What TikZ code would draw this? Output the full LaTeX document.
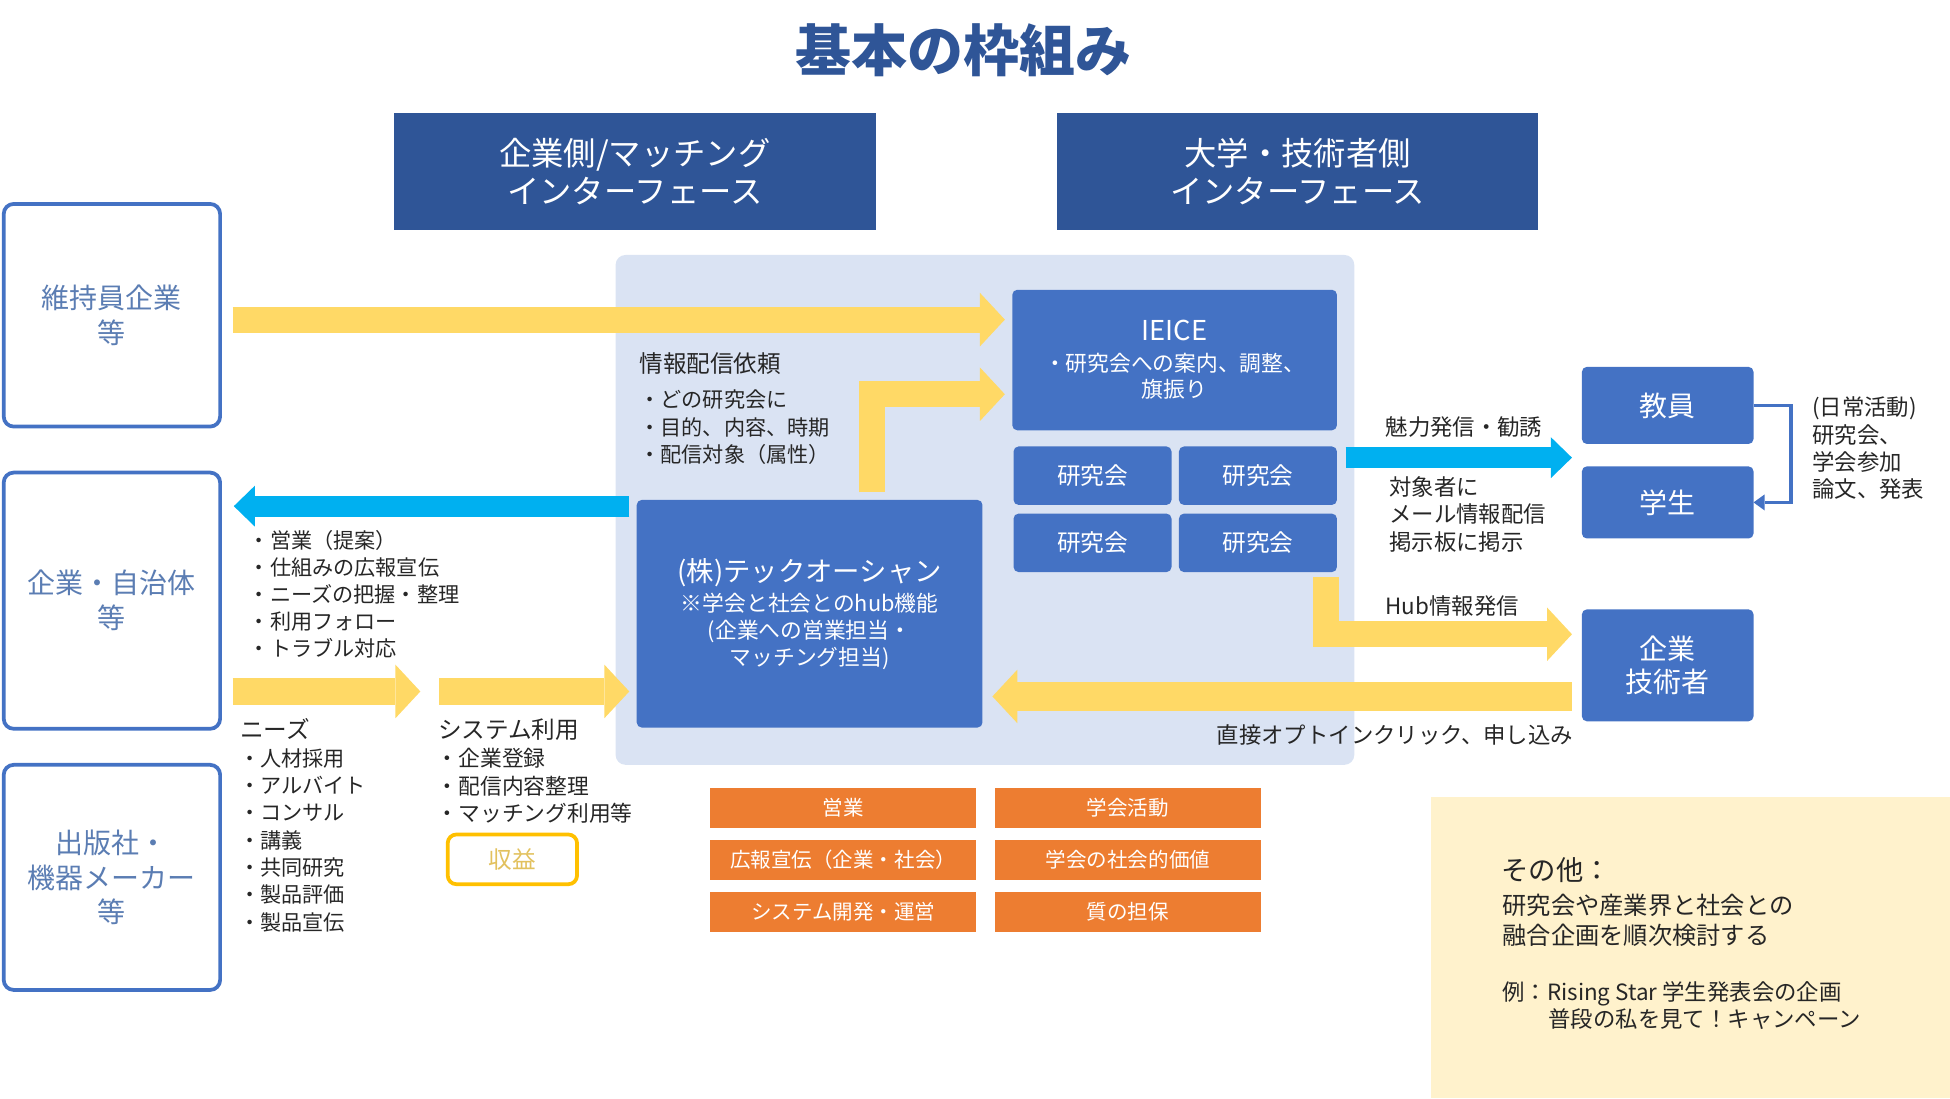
\documentclass[tikz,border=0pt]{standalone}
\usepackage{fontspec}
\setmainfont{Noto Sans CJK JP}
\usetikzlibrary{positioning, calc, arrows.meta}

\definecolor{navy}{HTML}{2F5597}
\definecolor{midblue}{HTML}{4472C4}
\definecolor{steelblue}{HTML}{5B7DB3}
\definecolor{paleblue}{HTML}{DAE3F3}
\definecolor{sunyellow}{HTML}{FFD966}
\definecolor{skyblue}{HTML}{00B0F0}
\definecolor{taskorange}{HTML}{ED7D31}
\definecolor{gold}{HTML}{FFC000}
\definecolor{paleochre}{HTML}{E2C15E}
\definecolor{cream}{HTML}{FFF2CC}
\definecolor{inkgray}{HTML}{262626}

\def \sidewidth {174pt}
\def \hdrwidth {387pt}
\def \taskwidth {214pt}

\tikzset{
  hdrbox/.style = {fill = navy, text = white, align = center, inner sep = 0pt, outer sep = 0pt, minimum width = \hdrwidth, minimum height = 94pt, font = \fontsize{26}{31}\selectfont},
  sidebox/.style = {draw = midblue, line width = 3pt, rounded corners = 8pt, fill = white, text = steelblue, align = center, outer sep = 0pt, minimum width = \sidewidth, font = \fontsize{22.5}{28}\selectfont},
  bluebox/.style = {fill = midblue, text = white, rounded corners = 4pt, align = center, inner sep = 0pt, outer sep = 0pt},
  kenbox/.style = {bluebox, minimum width = 127pt, minimum height = 47pt, font = \fontsize{19}{23}\selectfont},
  taskbox/.style = {fill = taskorange, text = white, inner sep = 0pt, outer sep = 0pt, minimum width = \taskwidth, minimum height = 32pt, font = \fontsize{16.5}{20}\selectfont},
  note/.style = {text = inkgray, align = left, inner sep = 0pt, font = \fontsize{17}{22}\selectfont},
  yarrow/.style = {draw = sunyellow, line width = 21pt, -{Triangle[length = 20pt, width = 43pt, line width = 0pt]}},
  carrow/.style = {draw = skyblue, line width = 17pt, -{Triangle[length = 17pt, width = 33pt, line width = 0pt]}},
}

\begin{document}
\begin{tikzpicture}[x = 1pt, y = -1pt]
\useasboundingbox (0, 0) rectangle (1568, 883);

\node (title) [font = \bfseries\fontsize{45}{50}\selectfont, text = navy] at (775, 40) {基本の枠組み};

\node (hdr_corp) [hdrbox] at (510.5, 138) {企業側/マッチング\\インターフェース};
\node (hdr_univ) [hdrbox] at (1043.5, 138) {大学・技術者側\\インターフェース};

% background panels
\node (hub_panel) [fill = paleblue, rounded corners = 8pt, inner sep = 0pt, outer sep = 0pt, minimum width = 594pt, minimum height = 410pt] at (792, 410) {};
\node (other_panel) [fill = cream, inner sep = 0pt, outer sep = 0pt, minimum width = 417pt, minimum height = 242pt] at (1359.5, 762) {};

\node (ijiin) [sidebox, minimum height = 179pt] at (90, 253.5) {維持員企業\\等};
\node (kigyo) [sidebox, minimum height = 206pt] at (90, 483) {企業・自治体\\等};
\node (shuppan) [sidebox, minimum height = 181pt] at (90, 705.5) {出版社・\\機器メーカー\\等};

\node (ieice) [bluebox, minimum width = 261pt, minimum height = 113pt, font = \fontsize{17.5}{21}\selectfont] at (944.5, 289.5) {{\fontsize{22}{26}\selectfont IEICE}\\[4pt]・研究会への案内、調整、\\旗振り};

\node (ken_a) [kenbox, below right = 13pt and 1pt of ieice.south west] {研究会};
\node (ken_b) [kenbox, right = 6pt of ken_a] {研究会};
\node (ken_c) [kenbox, below = 7pt of ken_a] {研究会};
\node (ken_d) [kenbox, right = 6pt of ken_c] {研究会};

\node (tech) [bluebox, minimum width = 278pt, minimum height = 183pt, font = \fontsize{17.5}{21.5}\selectfont] at (651, 493.5) {{\fontsize{22}{26}\selectfont (株)テックオーシャン}\\[3pt]※学会と社会とのhub機能\\(企業への営業担当・\\マッチング担当)};

\node (kyoin) [bluebox, minimum width = 138pt, minimum height = 62pt, font = \fontsize{22.5}{27}\selectfont] at (1341, 326) {教員};
\node (gakusei) [bluebox, minimum width = 138pt, minimum height = 58pt, font = \fontsize{22.5}{27}\selectfont] at (1341, 404) {学生};
\node (gijutsu) [bluebox, minimum width = 138pt, minimum height = 90pt, font = \fontsize{22.5}{27}\selectfont] at (1341, 535) {企業\\技術者};

\node (task_sales) [taskbox] at (678, 649.5) {営業};
\node (task_pr) [taskbox, below = 10pt of task_sales] {広報宣伝（企業・社会）};
\node (task_sys) [taskbox, below = 10pt of task_pr] {システム開発・運営};
\node (task_soc) [taskbox, right = 15pt of task_sales] {学会活動};
\node (task_val) [taskbox, right = 15pt of task_pr] {学会の社会的価値};
\node (task_qa) [taskbox, right = 15pt of task_sys] {質の担保};

\node (shueki) [draw = gold, line width = 3pt, rounded corners = 7pt, text = paleochre, minimum width = 104pt, minimum height = 40pt, font = \fontsize{19}{23}\selectfont] at (412, 691) {収益};

% arrows
\draw[yarrow] ([xshift = 10pt, yshift = -3.5pt] ijiin.east) -- ([xshift = -6pt, yshift = -3.5pt] ijiin.east -| ieice.west);
\draw[yarrow] ([xshift = 50pt, yshift = 6pt] tech.north) |- ([xshift = -6pt, yshift = -27.5pt] ieice.west);
\draw[carrow] ([xshift = -6pt, yshift = -5pt] tech.north west) -- ([xshift = 11pt, yshift = -5pt] tech.north west -| kigyo.east);

\coordinate (needs_tip) at (338, 556);
\coordinate (sys_tail) at (353, 556);
\draw[yarrow] ([xshift = 10pt] kigyo.east |- needs_tip) -- (needs_tip);
\draw[yarrow] (sys_tail) -- ([xshift = -6pt] tech.west |- sys_tail);

\draw[carrow] ([xshift = 7pt, yshift = 14.5pt] ken_b.east) -- ([xshift = -8pt, yshift = -11pt] kyoin.south west);
\draw[yarrow] ([xshift = -9pt, yshift = -4pt] ken_d.south east) |- ([xshift = -8pt, yshift = 25pt] gijutsu.west);
\draw[yarrow, line width = 23pt] ([xshift = -8pt, yshift = -25pt] gijutsu.west) -- ($(tech.east |- gijutsu.west) + (8, 25)$);

\draw[draw = midblue, line width = 3pt, -{Triangle[length = 9pt, width = 13pt, line width = 0pt]}] (kyoin.east) -- ++(30, 0) |- (gakusei.east);

% labels
\node (req_head) [note, anchor = west, font = \fontsize{19}{23}\selectfont] at (514, 292) {情報配信依頼};
\node (req_list) [note, anchor = north west] at (514, 313.5) {・どの研究会に\\・目的、内容、時期\\・配信対象（属性）};

\node (sales_list) [note, anchor = north west, font = \fontsize{17}{21.75}\selectfont] at (200, 426.5) {・営業（提案）\\・仕組みの広報宣伝\\・ニーズの把握・整理\\・利用フォロー\\・トラブル対応};

\node (needs_head) [note, anchor = west, font = \fontsize{19}{23}\selectfont] at (193, 586) {ニーズ};
\node (needs_list) [note, anchor = north west] at (192, 601.5) {・人材採用\\・アルバイト\\・コンサル\\・講義\\・共同研究\\・製品評価\\・製品宣伝};

\node (sys_head) [note, anchor = west, font = \fontsize{19}{23}\selectfont] at (352, 587) {システム利用};
\node (sys_list) [note, anchor = north west, font = \fontsize{17.5}{22.5}\selectfont] at (351, 601) {・企業登録\\・配信内容整理\\・マッチング利用等};

\node (appeal_lbl) [note, anchor = west, font = \fontsize{18}{22}\selectfont] at (1114, 343) {魅力発信・勧誘};
\node (mail_lbl) [note, anchor = north west, font = \fontsize{18}{22}\selectfont] at (1117, 383) {対象者に\\メール情報配信\\掲示板に掲示};
\node (hub_lbl) [note, anchor = west, font = \fontsize{18}{22}\selectfont] at (1114, 487) {Hub情報発信};
\node (optin_lbl) [note, anchor = east, font = \fontsize{18}{22}\selectfont] at (1265, 591) {直接オプトインクリック、申し込み};
\node (daily_lbl) [note, anchor = north west, font = \fontsize{18}{22}\selectfont] at (1457, 319) {(日常活動)\\研究会、\\学会参加\\論文、発表};

\node (other_head) [note, anchor = west, font = \fontsize{22}{26}\selectfont] at (1207, 700) {その他：};
\node (other_body) [note, anchor = north west, font = \fontsize{19.5}{24}\selectfont] at (1208, 718.5) {研究会や産業界と社会との\\融合企画を順次検討する};
\node (other_eg) [note, anchor = north west, font = \fontsize{18}{22}\selectfont] at (1208, 789) {例：Rising Star 学生発表会の企画\\\hspace*{37pt}普段の私を見て！キャンペーン};

\end{tikzpicture}
\end{document}
